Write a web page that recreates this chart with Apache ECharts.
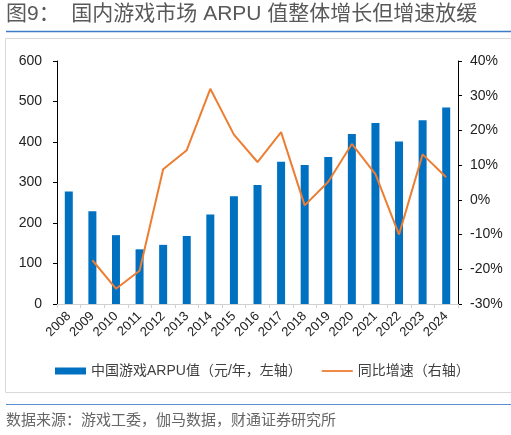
<!DOCTYPE html>
<html><head><meta charset="utf-8">
<script src="https://cdn.jsdelivr.net/npm/echarts@6/dist/echarts.min.js"></script>
<style>html,body{margin:0;padding:0;background:#fff}#c{width:511px;height:435px}</style>
</head><body><div id="c"></div>
<script>
const years = ['2008','2009','2010','2011','2012','2013','2014','2015','2016','2017','2018','2019','2020','2021','2022','2023','2024'];
const arpu = [278,229,170,135,146,168,221,266,294,351,343,363,420,447,401,454,485];
const growth = [null,-17.4,-25.6,-20.4,8.8,14.3,32.0,18.8,10.9,19.5,-1.6,5.2,16.1,7.4,-10.0,13.1,6.5];
const leftTicks = [0,100,200,300,400,500,600];
const rightTicks = [-30,-20,-10,0,10,20,30,40];
const barName = '中国游戏ARPU值（元/年，左轴）';
const lineName = '同比增速（右轴）';
const titleText = '图9：  国内游戏市场 ARPU 值整体增长但增速放缓';
const sourceText = '数据来源：游戏工委，伽马数据，财通证券研究所';

const chart = echarts.init(document.getElementById('c'));
const font = 'Arial, "Liberation Sans", "Noto Sans CJK SC", sans-serif';
chart.setOption({
  animation: false,
  textStyle: { fontFamily: font },
  grid: { left: 57, right: 53, top: 61, bottom: 131, containLabel: false },
  graphic: [
    { type: 'text', left: 6, top: 4, style: { text: titleText, fill: '#595959', font: '21px ' + font } },
    { type: 'line', shape: { x1: 6, y1: 31.5, x2: 511, y2: 31.5 }, style: { stroke: '#3d7cc9', lineWidth: 1.5 } },
    { type: 'rect', shape: { x: 5.5, y: 38.5, width: 510, height: 354 }, style: { fill: 'none', stroke: '#d9d9d9', lineWidth: 1 } },
    { type: 'line', shape: { x1: 6, y1: 404.5, x2: 511, y2: 404.5 }, style: { stroke: '#5b8fd1', lineWidth: 1.2 } },
    { type: 'text', left: 6, top: 413, style: { text: sourceText, fill: '#666', font: '15px ' + font } }
  ],
  legend: {
    bottom: 52, left: 50,
    itemGap: 20, itemWidth: 31, itemHeight: 7,
    textStyle: { fontSize: 14, color: '#404040' },
    data: [
      { name: barName, icon: 'rect' },
      { name: lineName, icon: 'path://M0,0M0,2.6L31,2.6L31,4.4L0,4.4ZM31,7', itemStyle: { color: '#ed7d31' } }
    ]
  },
  xAxis: {
    type: 'category', data: years,
    axisLine: { lineStyle: { color: '#d0d0d0' } },
    axisTick: { show: true, length: 4, lineStyle: { color: '#d0d0d0' } },
    axisLabel: { rotate: 45, fontSize: 13, color: '#222', margin: 10, interval: 0 }
  },
  yAxis: [
    {
      type: 'value', min: 0, max: 600, interval: 100,
      axisLine: { show: true, lineStyle: { color: '#000' } },
      axisTick: { show: true, length: 4, lineStyle: { color: '#000' } },
      splitLine: { show: false },
      axisLabel: { fontSize: 14, color: '#222', margin: 15 }
    },
    {
      type: 'value', min: -30, max: 40, interval: 10,
      axisLine: { show: true, lineStyle: { color: '#000' } },
      axisTick: { show: true, length: 4, lineStyle: { color: '#000' } },
      splitLine: { show: false },
      axisLabel: { fontSize: 14, color: '#222', margin: 12, formatter: '{value}%' }
    }
  ],
  series: [
    { name: barName, type: 'bar', data: arpu, barWidth: 8, itemStyle: { color: '#0070c0' } },
    { name: lineName, type: 'line', yAxisIndex: 1, data: growth, symbol: 'none', lineStyle: { color: '#ed7d31', width: 2 }, itemStyle: { color: '#ed7d31' } }
  ]
});
</script></body></html>
